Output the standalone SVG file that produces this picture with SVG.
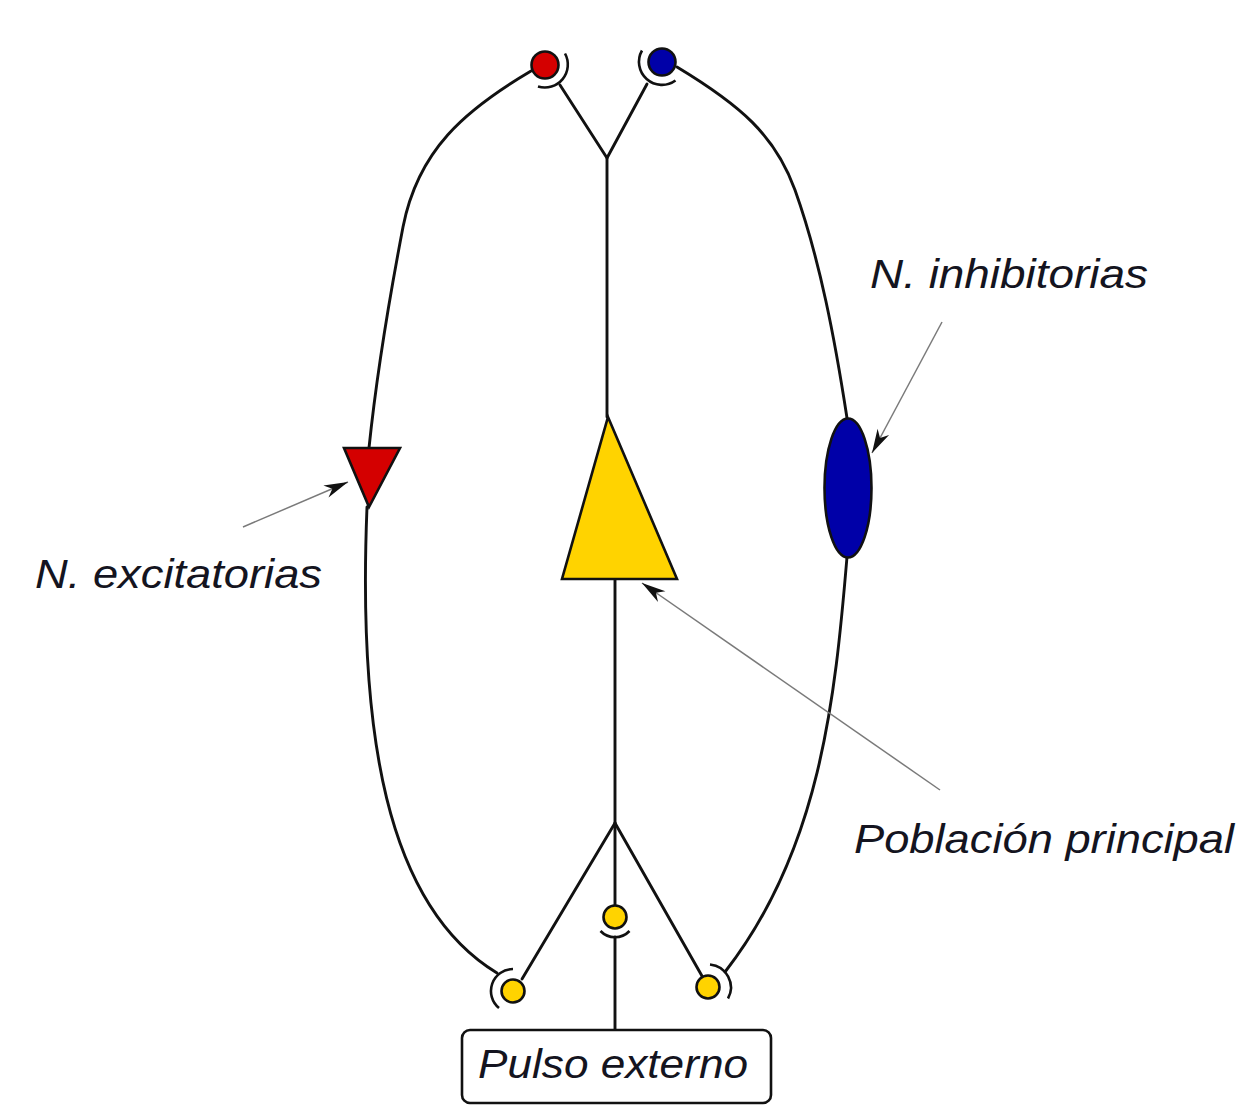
<svg xmlns="http://www.w3.org/2000/svg" width="1237" height="1106" viewBox="0 0 1237 1106">
<style>
  .wire { fill: none; stroke: #111; stroke-width: 2.9; stroke-linecap: round; stroke-linejoin: round; }
  .cup { fill: none; stroke: #111; stroke-width: 2.6; }
  .shape { stroke: #111; stroke-width: 2.6; stroke-linejoin: miter; }
  .red { fill: #D40000; }
  .blue { fill: #0000A8; }
  .gold { fill: #FFD300; }
  .ann { fill: none; stroke: #7a7a7a; stroke-width: 1.5; }
  .lbl { font-family: "Liberation Sans", Arial, sans-serif; font-style: italic; font-size: 40px; fill: #141420; }
</style>
<defs>
  <marker id="ah" markerUnits="userSpaceOnUse" viewBox="-26 -8 28 16" markerWidth="28" markerHeight="16" refX="0" refY="0" orient="auto">
    <path d="M0,0 L-24,-6.5 L-17,0 L-24,6.5 Z" fill="#111"/>
  </marker>
</defs>
<rect width="1237" height="1106" fill="#fff"/>

<g id="connectors">
  <!-- top Y into main population -->
  <path class="wire" d="M560,85 L607,158 L647,84"/>
  <path class="wire" d="M607,158 L607,417"/>
  <!-- red synapse to excitatory neuron -->
  <path class="wire" d="M531,71 C465,110 418,150 403,227 C390,295 376,380 369,448"/>
  <!-- blue synapse to inhibitory neuron -->
  <path class="wire" d="M677,67 C740,105 775,135 795,190 C820,260 835,340 847,418"/>
  <!-- excitatory neuron down to bottom-left synapse -->
  <path class="wire" d="M367,507 C358,730 385,905 497,973"/>
  <!-- inhibitory neuron down to bottom-right synapse -->
  <path class="wire" d="M847,557 C835,700 820,850 725,972"/>
  <!-- main population down to lower junction -->
  <path class="wire" d="M615,579 L615,823"/>
  <path class="wire" d="M522,979 L615,823 L702,976"/>
  <path class="wire" d="M615,823 L615,905"/>
  <!-- external pulse up to middle synapse -->
  <path class="wire" d="M615,937 L615,1030"/>
</g>

<g id="syn-red">
  <circle class="shape red" cx="545" cy="65" r="13.5"/>
  <path class="cup" d="M565,53.5 A23,23 0 0 1 538,86.5"/>
</g>
<g id="syn-blue">
  <circle class="shape blue" cx="662" cy="62" r="13.5"/>
  <path class="cup" d="M642,50.5 A23,23 0 0 0 675.5,80.5"/>
</g>

<g id="exc-neuron">
  <polygon class="shape red" points="344,448 400,448 369,507"/>
</g>
<g id="main-population">
  <polygon class="shape gold" points="608,417 677,579 562,579"/>
</g>
<g id="inh-neuron">
  <ellipse class="shape blue" cx="848" cy="488" rx="23.5" ry="69.5"/>
</g>

<g id="syn-yellow-left">
  <circle class="shape gold" cx="513" cy="991" r="11.5"/>
  <path class="cup" d="M513,969 A22,22 0 0 0 499,1008"/>
</g>
<g id="syn-yellow-mid">
  <circle class="shape gold" cx="615" cy="917" r="11.5"/>
  <path class="cup" d="M600.5,931 A20,20 0 0 0 629.5,931"/>
</g>
<g id="syn-yellow-right">
  <circle class="shape gold" cx="708" cy="987" r="11.5"/>
  <path class="cup" d="M710,964.5 A23,23 0 0 1 728,998.5"/>
</g>

<g id="pulse-box">
  <rect x="462" y="1030" width="309" height="73" rx="8" ry="8" fill="#fff" stroke="#111" stroke-width="2.6"/>
  <text class="lbl" x="478" y="1078" textLength="270" lengthAdjust="spacingAndGlyphs">Pulso externo</text>
</g>

<g id="annotations">
  <path class="ann" d="M942,322 L872,453" marker-end="url(#ah)"/>
  <path class="ann" d="M243,527 L348,482" marker-end="url(#ah)"/>
  <path class="ann" d="M940,790 L642,583" marker-end="url(#ah)"/>
  <text class="lbl" x="870" y="288" textLength="278" lengthAdjust="spacingAndGlyphs">N. inhibitorias</text>
  <text class="lbl" x="35" y="588" textLength="287" lengthAdjust="spacingAndGlyphs">N. excitatorias</text>
  <text class="lbl" x="854" y="853" textLength="380" lengthAdjust="spacingAndGlyphs">Población principal</text>
</g>
</svg>
